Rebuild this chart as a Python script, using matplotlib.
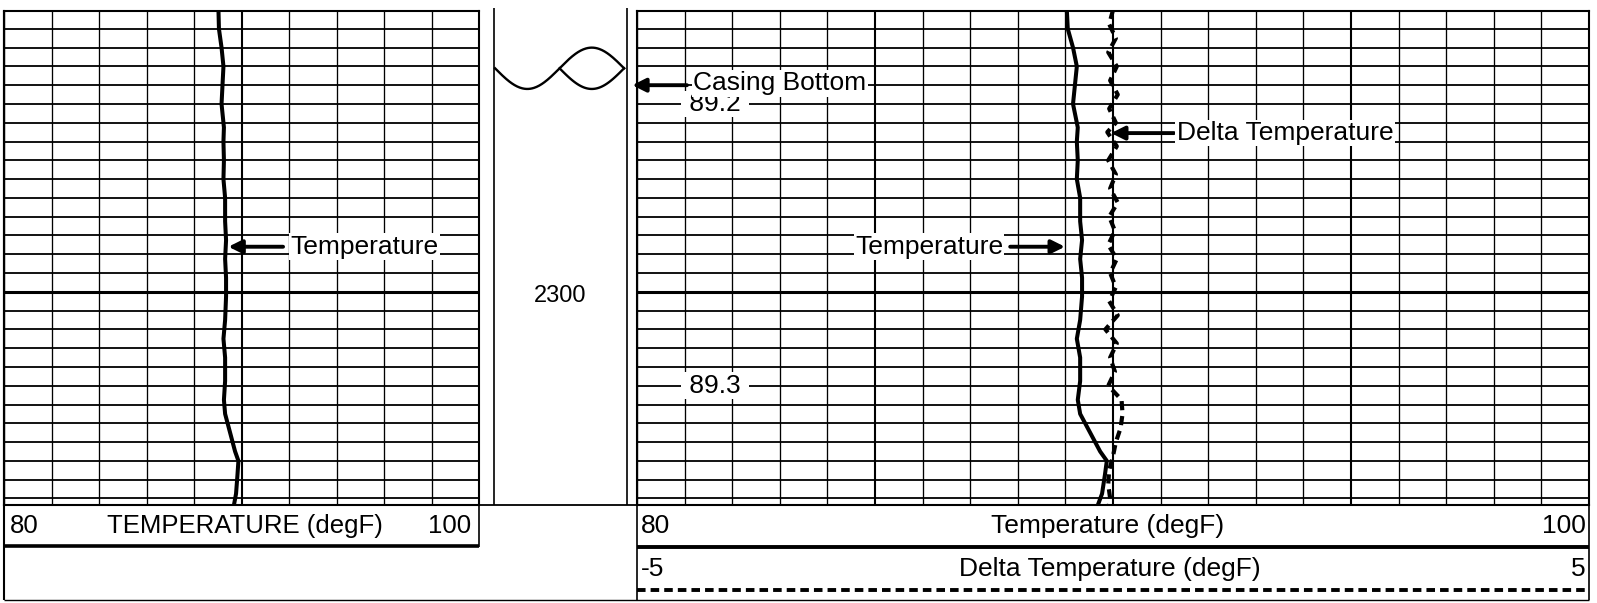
import matplotlib.pyplot as plt
import numpy as np

plt.rcParams["font.family"] = ["Liberation Sans", "DejaVu Sans"]

W, H, DPI = 1597, 603, 100

# temperature log (depth in ft, temperature in degF)
depth = [2270.0, 2272.0, 2274.0, 2276.0, 2278.0, 2280.0, 2282.5, 2284.0,
         2286.0, 2288.0, 2290.0, 2292.5, 2294.5, 2296.5, 2298.5, 2300.5,
         2303.0, 2305.0, 2307.0, 2309.5, 2311.5, 2313.0, 2315.0, 2317.0,
         2318.0, 2319.5, 2321.5, 2323.0]
temperature = [89.03, 89.05, 89.16, 89.24, 89.20, 89.16, 89.26, 89.24,
               89.26, 89.24, 89.31, 89.31, 89.35, 89.31, 89.35, 89.35,
               89.31, 89.24, 89.31, 89.31, 89.26, 89.31, 89.52, 89.73,
               89.87, 89.83, 89.77, 89.66]

# delta temperature log
delta_depth = [2270.0, 2271.5, 2273.0, 2274.5, 2276.0, 2277.5, 2279.0, 2280.5,
               2282.0, 2283.0, 2284.5, 2286.0, 2287.5, 2289.0, 2290.5, 2292.0,
               2293.5, 2295.0, 2296.5, 2298.0, 2299.5, 2301.0, 2302.5, 2304.0,
               2305.5, 2307.0, 2308.5, 2310.0, 2311.5, 2313.0, 2314.5, 2316.0,
               2317.5, 2319.0, 2320.5, 2322.0, 2323.0]
delta_temp = [0.00, -0.04, 0.03, -0.05, 0.04, -0.03, 0.05, -0.04,
              0.03, -0.06, 0.04, -0.05, 0.03, -0.03, 0.05, -0.04,
              0.02, -0.05, 0.04, -0.03, 0.03, -0.04, 0.05, -0.08,
              0.04, -0.03, 0.02, -0.05, 0.09, 0.10, 0.08, 0.03,
              0.00, -0.04, -0.05, -0.03, -0.05]

temp_range = [80, 100]
delta_range = [-5, 5]
depth_top, depth_bottom = 2270.1, 2322.7
marker_depth = 2300
casing_depth = 2278
casing_symbol_depth = 2276.2
reading_depths = [2280, 2310]
reading_labels = ["89.2", "89.3"]

FS = 19
fig = plt.figure(figsize=(W / DPI, H / DPI), dpi=DPI)


def px_axes(x0, y0, x1, y1):
    return fig.add_axes([x0 / W, 1 - y1 / H, (x1 - x0) / W, (y1 - y0) / H])


def track(ax, step, heavy):
    ax.set_xlim(*temp_range)
    ax.set_ylim(depth_bottom, depth_top)
    for t in np.arange(temp_range[0], temp_range[1] + 0.01, step):
        ax.axvline(t, color="black", lw=1.5 if t in heavy else 0.95, zorder=1)
    for d in np.arange(2270, 2324, 2):
        ax.axhline(d, color="black", lw=2.2 if d == marker_depth else 1.3, zorder=1)
    ax.set_xticks([])
    ax.set_yticks([])
    for s in ax.spines.values():
        s.set_linewidth(1.5)


arrow_kw = dict(arrowstyle="-|>", color="black", lw=2.8, mutation_scale=20,
                shrinkA=0, shrinkB=0)
box_kw = dict(boxstyle="square,pad=0.05", fc="white", ec="none")

# ── left track ──────────────────────────────────────────────
ax_l = px_axes(4, 11, 479, 505)
track(ax_l, 2, {90})
ax_l.plot(temperature, depth, color="black", lw=2.9, zorder=3)
ax_l.annotate("", xy=(89.45, 2295.2), xytext=(91.75, 2295.2), arrowprops=arrow_kw)
ax_l.text(92.05, 2295.2, "Temperature", ha="left", va="center", fontsize=FS,
          bbox=box_kw, zorder=4)

# ── middle depth column ─────────────────────────────────────
ax_m = px_axes(494, 11, 627, 505)
ax_m.set_xlim(0, 1)
ax_m.set_ylim(depth_bottom, depth_top)
ax_m.axis("off")
s = np.linspace(0, 1, 200)
ax_m.plot(0.008 + 0.97 * s, casing_symbol_depth + 2.2 * np.sin(2 * np.pi * s),
          color="black", lw=1.7, clip_on=False)
s2 = np.linspace(0.5, 1, 100)
ax_m.plot(0.008 + 0.97 * s2, casing_symbol_depth - 2.2 * np.sin(2 * np.pi * s2),
          color="black", lw=1.7, clip_on=False)
ax_m.text(0.5, marker_depth + 0.4, str(marker_depth), ha="center", va="center",
          fontsize=17)

# ── right track ─────────────────────────────────────────────
ax_r = px_axes(637, 11, 1589, 505)
track(ax_r, 1, {85, 90, 95})
ax_r.plot(temperature, depth, color="black", lw=2.9, zorder=3)
ax_d = ax_r.twiny()
ax_d.set_xlim(*delta_range)
ax_d.set_ylim(depth_bottom, depth_top)
ax_d.set_xticks([])
ax_d.axis("off")
ax_d.plot(delta_temp, delta_depth, color="black", lw=3, ls=(0, (2.2, 1.4)), zorder=3)

for d, lab in zip(reading_depths, reading_labels):
    ax_r.text(81.64, d, f" {lab} ", ha="center", va="center", fontsize=FS,
              bbox=dict(boxstyle="square,pad=0.05", fc="white", ec="none"), zorder=4)

ax_r.annotate("", xy=(79.9, casing_depth), xytext=(81.05, casing_depth),
              arrowprops=arrow_kw, annotation_clip=False)
ax_r.text(81.18, casing_depth - 0.2, "Casing Bottom", ha="left", va="center",
          fontsize=FS, bbox=box_kw, zorder=5)

ax_r.annotate("", xy=(88.99, 2295.2), xytext=(87.84, 2295.2), arrowprops=arrow_kw)
ax_r.text(87.69, 2295.2, "Temperature", ha="right", va="center", fontsize=FS,
          bbox=box_kw, zorder=4)

ax_d.annotate("", xy=(-0.02, 2283.1), xytext=(0.64, 2283.1), arrowprops=arrow_kw)
ax_d.text(0.67, 2283.1, "Delta Temperature", ha="left", va="center", fontsize=FS,
          bbox=box_kw, zorder=4)

# ── frame and scale headers (pixel coordinates) ─────────────
ov = fig.add_axes([0, 0, 1, 1])
ov.set_xlim(0, W)
ov.set_ylim(H, 0)
ov.axis("off")
K = dict(color="black", solid_capstyle="butt")
ov.plot([4, 4], [11, 600], lw=1.5, **K)
ov.plot([479, 479], [505, 547], lw=1.2, **K)
ov.plot([4, 637], [505, 505], lw=1.3, **K)
ov.plot([4, 479], [546, 546], lw=2.6, **K)
ov.plot([4, 1589], [600, 600], lw=1.0, **K)
ov.plot([494, 494], [8, 505], lw=1.2, **K)
ov.plot([627, 627], [8, 505], lw=1.2, **K)
ov.plot([637, 637], [505, 600], lw=1.2, **K)
ov.plot([1589, 1589], [505, 600], lw=1.2, **K)
ov.plot([637, 1589], [547, 547], lw=2.8, **K)
ov.plot([637, 1589], [590, 590], lw=2.8, ls=(0, (2.2, 1.3)), color="black")

ov.text(10, 526, str(temp_range[0]), ha="left", va="center", fontsize=18.5)
ov.text(245, 526, "TEMPERATURE (degF)", ha="center", va="center", fontsize=18.5)
ov.text(471, 526, str(temp_range[1]), ha="right", va="center", fontsize=18.5)

ov.text(641, 526, str(temp_range[0]), ha="left", va="center", fontsize=FS)
ov.text(1108, 526, "Temperature (degF)", ha="center", va="center", fontsize=FS)
ov.text(1586, 526, str(temp_range[1]), ha="right", va="center", fontsize=FS)

ov.text(641, 569, str(delta_range[0]), ha="left", va="center", fontsize=FS)
ov.text(1110, 569, "Delta Temperature (degF)", ha="center", va="center", fontsize=FS)
ov.text(1586, 569, str(delta_range[1]), ha="right", va="center", fontsize=FS)

fig.savefig("out.png", dpi=DPI, facecolor="white")
